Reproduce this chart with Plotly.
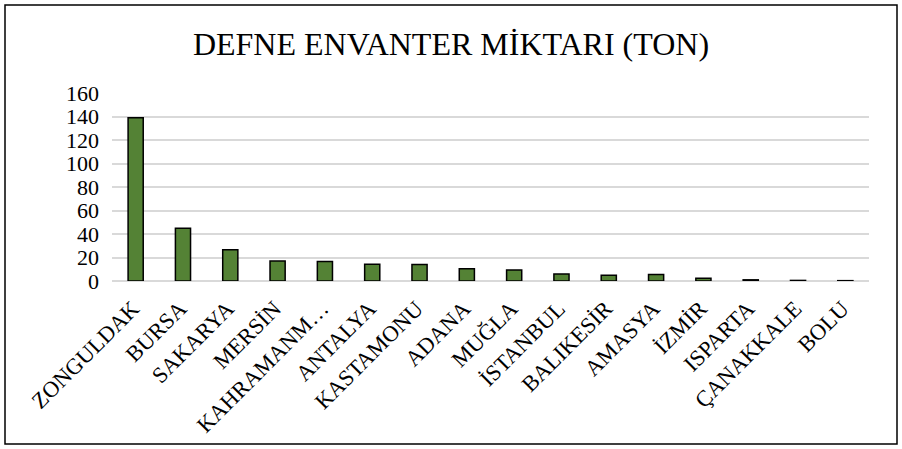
import plotly.graph_objects as go

categories = ["ZONGULDAK", "BURSA", "SAKARYA", "MERSİN", "KAHRAMANM…", "ANTALYA",
              "KASTAMONU", "ADANA", "MUĞLA", "İSTANBUL", "BALIKESİR", "AMASYA",
              "İZMİR", "ISPARTA", "ÇANAKKALE", "BOLU"]
values = [139, 45, 26.5, 17, 16.6, 14.2, 14.1, 10.5, 9.4, 6, 4.8, 5.6, 2.3, 1.0, 0.5, 0.3]
y_ticks = [0, 20, 40, 60, 80, 100, 120, 140, 160]

fig = go.Figure(go.Bar(
    x=categories, y=values,
    marker=dict(color="#548235", line=dict(color="black", width=1.5)),
))

L, R, T, B = 112, 33, 93, 168
W, H = 902, 449
pw, ph = W - L - R, H - T - B

fig.update_layout(
    width=W, height=H,
    margin=dict(l=L, r=R, t=T, b=B, autoexpand=False),
    paper_bgcolor="white", plot_bgcolor="white",
    bargap=0.68,
    showlegend=False,
    font=dict(family="Liberation Serif", color="black"),
    title=dict(text="DEFNE ENVANTER MİKTARI (TON)", x=0.5, xanchor="center",
               y=1 - 44 / H, yanchor="middle",
               font=dict(size=32, family="Liberation Serif", color="black")),
    xaxis=dict(tickangle=-45, tickfont=dict(size=22.5), showgrid=False,
               showline=False, ticks="", zeroline=False, automargin=False,
               ticklabelstandoff=9, ticklabelshift=-3),
    yaxis=dict(range=[0, 160], tickvals=y_ticks, tickfont=dict(size=22),
               showgrid=True, gridcolor="#d9d9d9", gridwidth=1.5,
               zeroline=True, zerolinecolor="#d9d9d9", zerolinewidth=1.5,
               ticks="", ticklabelstandoff=12, showline=False, automargin=False),
    shapes=[dict(type="rect", xref="paper", yref="paper",
                 x0=(5 - L) / pw, x1=(897 - L) / pw,
                 y0=(H - B - 444) / ph, y1=(H - B - 5) / ph,
                 line=dict(color="black", width=1.5), layer="below")],
)

fig.write_html("out.html", config={"displayModeBar": False},
               post_script="document.body.style.margin='0';document.body.style.overflow='hidden';")
